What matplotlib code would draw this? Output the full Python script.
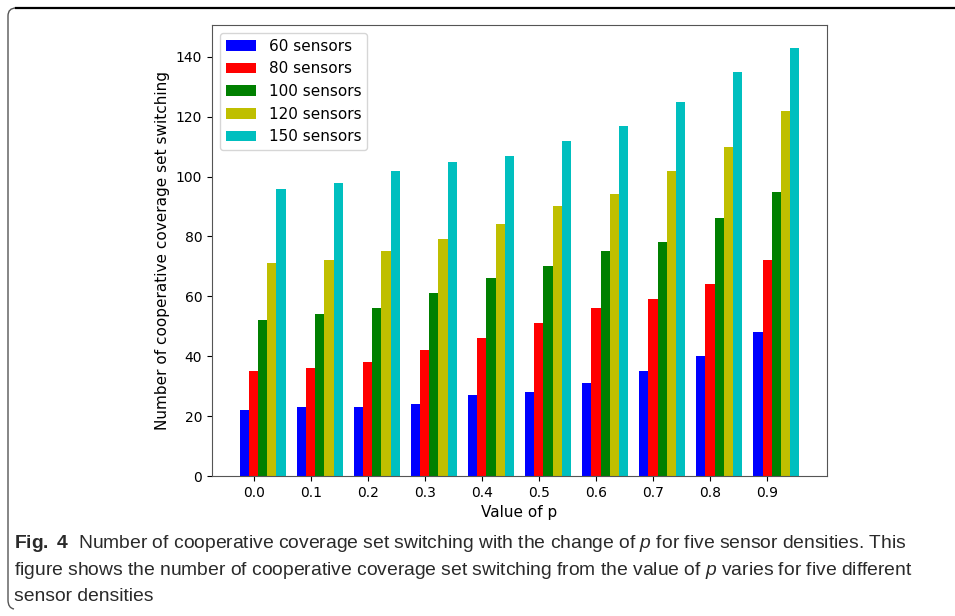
import numpy as np
import matplotlib
matplotlib.use('Agg')
import matplotlib.pyplot as plt
from matplotlib.path import Path
from matplotlib.patches import PathPatch

# Data
p_values = ['0.0', '0.1', '0.2', '0.3', '0.4', '0.5', '0.6', '0.7', '0.8', '0.9']
labels = ['60 sensors', '80 sensors', '100 sensors', '120 sensors', '150 sensors']
colors = ['b', 'r', 'g', 'y', 'c']
s60 = [22, 23, 23, 24, 27, 28, 31, 35, 40, 48]
s80 = [35, 36, 38, 42, 46, 51, 56, 59, 64, 72]
s100 = [52, 54, 56, 61, 66, 70, 75, 78, 86, 95]
s120 = [71, 72, 75, 79, 84, 90, 94, 102, 110, 122]
s150 = [96, 98, 102, 105, 107, 112, 117, 125, 135, 143]
series = [s60, s80, s100, s120, s150]

caption1 = (r'$\mathbf{Fig.\ 4}$  Number of cooperative coverage set switching with the '
            r'change of $\mathit{p}$ for five sensor densities. This')
caption2 = (r'figure shows the number of cooperative coverage set switching from the '
            r'value of $\mathit{p}$ varies for five different')
caption3 = 'sensor densities'

# caption font (journal text)
cap_font = 'Liberation Sans'
cap_size = 13.9
plt.rcParams['mathtext.fontset'] = 'custom'
plt.rcParams['mathtext.rm'] = cap_font
plt.rcParams['mathtext.it'] = cap_font + ':italic'
plt.rcParams['mathtext.bf'] = cap_font + ':bold'

W, H = 955, 616
fig = plt.figure(figsize=(W / 100, H / 100), dpi=100)
ax = fig.add_axes([212 / W, 1 - 476 / H, (827 - 212) / W, (476 - 25) / H])

x = np.arange(len(p_values))
width = 0.16
for i in range(len(series)):
    ax.bar(x + i * width, series[i], width, color=colors[i], label=labels[i])

ax.set_xticks(x + width)
ax.set_xticklabels(p_values)
ax.set_ylim(0, 150.6)
ax.set_yticks(np.arange(0, 141, 20))
ax.tick_params(labelsize=10)
ax.set_xlabel('Value of p', fontsize=11)
ax.set_ylabel('Number of cooperative coverage set switching', fontsize=11)
for s in ax.spines.values():
    s.set_color('#555555')

ax.legend(loc='upper left', fontsize=11)

# caption
def fy(py):
    return 1 - py / H

fig.text(14 / W, fy(548), caption1, fontsize=cap_size, family=cap_font,
         color='#2a2a2a', va='baseline')
fig.text(14 / W, fy(575), caption2, fontsize=cap_size, family=cap_font,
         color='#2a2a2a', va='baseline')
fig.text(14 / W, fy(601), caption3, fontsize=cap_size, family=cap_font,
         color='#2a2a2a', va='baseline')

# frame of the figure panel
fig.add_artist(plt.Line2D([16 / W, 1], [fy(8), fy(8)], color='black', lw=1.6))
verts = [(16, 8), (8, 8), (8, 16), (8, 600), (8, 608), (14, 609)]
codes = [Path.MOVETO, Path.CURVE3, Path.CURVE3, Path.LINETO, Path.CURVE3, Path.CURVE3]
path = Path([(vx / W, fy(vy)) for vx, vy in verts], codes)
fig.add_artist(PathPatch(path, facecolor='none', edgecolor='#555555', lw=1.0,
                         transform=fig.transFigure))

fig.savefig('out.png', dpi=100)
